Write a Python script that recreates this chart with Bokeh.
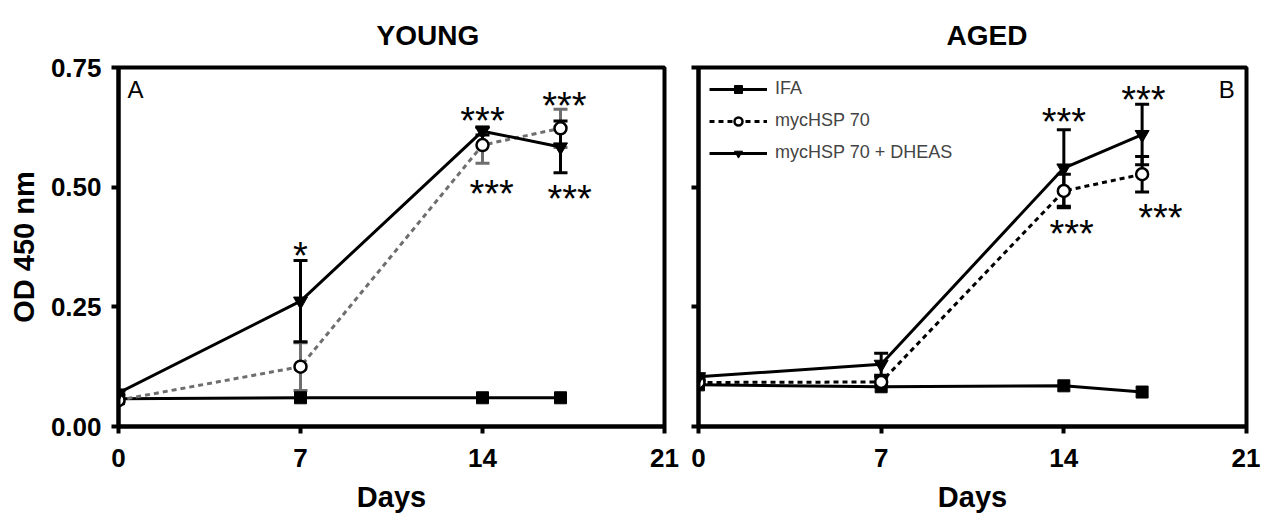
from bokeh.plotting import figure
from bokeh.models import FixedTicker, PrintfTickFormatter, Legend, LegendItem, Range1d, CustomJSTickFormatter
from bokeh.layouts import row
from bokeh.embed import file_html
from bokeh.resources import INLINE
from bokeh.core.properties import value

# ---------------- data ----------------
days = [0, 7, 14, 17]
x_ticks = [0, 7, 14, 21]
y_ticks = [0.0, 0.25, 0.50, 0.75]

young_ifa = [0.058, 0.060, 0.060, 0.060]
young_ifa_err = [0.0, 0.0, 0.0, 0.0]
young_myc = [0.055, 0.125, 0.588, 0.623]
young_myc_err = [0.004, 0.050, 0.038, 0.040]
young_dheas = [0.070, 0.262, 0.617, 0.584]
young_dheas_err = [0.004, 0.085, 0.008, 0.054]

aged_ifa = [0.087, 0.083, 0.085, 0.072]
aged_ifa_err = [0.0, 0.0, 0.0, 0.0]
aged_myc = [0.092, 0.093, 0.492, 0.527]
aged_myc_err = [0.004, 0.010, 0.035, 0.037]
aged_dheas = [0.104, 0.130, 0.540, 0.610]
aged_dheas_err = [0.004, 0.023, 0.080, 0.063]

young_star_x = [7.0, 14.0, 14.35, 17.15, 17.35]
young_star_y = [0.376, 0.657, 0.505, 0.688, 0.494]
young_star_text = ["*", "***", "***", "***", "***"]

aged_star_x = [14.0, 14.3, 17.05, 17.7]
aged_star_y = [0.654, 0.420, 0.700, 0.455]
aged_star_text = ["***", "***", "***", "***"]

series_names = ["IFA", "mycHSP 70", "mycHSP 70 + DHEAS"]

FONT = "Liberation Sans"
GRAY = "#6e6e6e"


def make_panel(title, title_offset, width, border_left, border_right, ifa, ifa_err,
               myc, myc_err, dheas, dheas_err, myc_color, star_x, star_y, star_text,
               letter, letter_x, letter_align, show_ylabels, legend=False):
    p = figure(width=width, height=515, output_backend="svg", toolbar_location=None,
               x_range=Range1d(0, 21), y_range=Range1d(0, 0.75),
               min_border_left=border_left, min_border_right=border_right,
               min_border_top=67, min_border_bottom=79)
    p.title.text = title
    p.title.text_font = FONT
    p.title.text_font_size = "28px"
    p.title.text_font_style = "bold"
    p.title.text_color = "black"
    p.title.align = "left"
    p.title.offset = title_offset
    p.title.standoff = 33
    p.grid.visible = False
    p.background_fill_color = "white"
    p.border_fill_color = "white"
    p.outline_line_color = "black"
    p.outline_line_width = 4

    for ax in (p.xaxis[0], p.yaxis[0]):
        ax.axis_line_width = 4
        ax.major_tick_line_width = 4
        ax.major_tick_out = 7
        ax.major_tick_in = 0
        ax.minor_tick_line_color = None
        ax.major_label_text_font = FONT
        ax.major_label_text_font_style = "bold"
        ax.major_label_text_font_size = "26px"
        ax.major_label_text_color = "black"
        ax.axis_label_text_font = FONT
        ax.axis_label_text_font_style = "bold"
        ax.axis_label_text_font_size = "29px"
        ax.axis_label_text_color = "black"

    p.xaxis.ticker = FixedTicker(ticks=x_ticks)
    p.xaxis.axis_label = "Days"
    p.xaxis.major_label_standoff = 15
    p.xaxis.axis_label_standoff = 11
    p.yaxis.ticker = FixedTicker(ticks=y_ticks)
    if show_ylabels:
        p.yaxis.formatter = PrintfTickFormatter(format="%.2f")
        p.yaxis.axis_label = "OD 450 nm"
        p.yaxis.major_label_standoff = 10
        p.yaxis.axis_label_standoff = 8
    else:
        p.yaxis.formatter = CustomJSTickFormatter(code="return ''")
        p.yaxis.major_label_standoff = 0

    def errbars(vals, errs, color):
        lo = [v - e for v, e in zip(vals, errs)]
        hi = [v + e for v, e in zip(vals, errs)]
        p.segment(x0=days, y0=lo, x1=days, y1=hi, line_color=color, line_width=3)
        p.scatter(x=days + days, y=lo + hi, marker="dash", size=14, line_color=color,
                  line_width=3)

    errbars(myc, myc_err, myc_color)
    errbars(dheas, dheas_err, "black")

    r_ifa_l = p.line(days, ifa, line_color="black", line_width=3)
    r_ifa_m = p.scatter(days, ifa, marker="square", size=12, fill_color="black",
                        line_color="black")
    r_myc_l = p.line(days, myc, line_color=myc_color, line_width=3, line_dash="5 4")
    r_myc_m = p.scatter(days, myc, marker="circle", size=12, fill_color="white",
                        line_color="black", line_width=2.5)
    r_dh_l = p.line(days, dheas, line_color="black", line_width=3)
    r_dh_m = p.scatter(days, dheas, marker="inverted_triangle", size=14,
                       fill_color="black", line_color="black")

    p.text(x=star_x, y=star_y, text=star_text, text_font=value(FONT),
           text_font_size="38px", text_align="center", text_baseline="middle",
           y_offset=9, text_color="black")

    p.text(x=[letter_x], y=[0.704], text=[letter], text_font=value(FONT),
           text_font_size="24px", text_align=letter_align, text_baseline="middle",
           text_color="black")

    if legend:
        items = [
            LegendItem(label=series_names[0], renderers=[r_ifa_l, r_ifa_m]),
            LegendItem(label=series_names[1], renderers=[r_myc_l, r_myc_m]),
            LegendItem(label=series_names[2], renderers=[r_dh_l, r_dh_m]),
        ]
        lg = Legend(items=items, location="top_left", glyph_width=58, glyph_height=20,
                    label_height=20, spacing=11, margin=11, padding=11,
                    label_standoff=8, label_text_font=FONT, label_text_font_size="18px",
                    border_line_color=None, background_fill_alpha=0)
        p.add_layout(lg)
    return p


pA = make_panel("YOUNG", 258, 681, 118, 17, young_ifa, young_ifa_err, young_myc,
                young_myc_err, young_dheas, young_dheas_err, GRAY, young_star_x,
                young_star_y, young_star_text, "A", 0.35, "left", True)
pB = make_panel("AGED", 248, 579, 17, 14, aged_ifa, aged_ifa_err, aged_myc,
                aged_myc_err, aged_dheas, aged_dheas_err, "black", aged_star_x,
                aged_star_y, aged_star_text, "B", 20.55, "right", False, legend=True)

layout = row(pA, pB)
open("out.html", "w").write(file_html(layout, INLINE))
